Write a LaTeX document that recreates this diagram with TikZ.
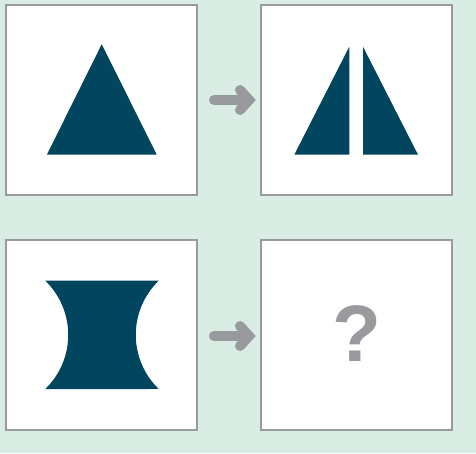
\documentclass[tikz,border=0pt]{standalone}
\usepackage{fontspec}
\setmainfont{Liberation Sans}
\begin{document}
\begin{tikzpicture}[x=1pt,y=-1pt,
  panel/.style={draw=framegray,line width=2.5pt,fill=white,minimum width=191pt,minimum height=190pt,inner sep=0pt,outer sep=0pt},
  shapefill/.style={fill=darkteal,draw=none},
  arrowline/.style={draw=arrowgray,line width=10pt,line cap=round,line join=miter}]
\definecolor{bggreen}{RGB}{217,237,229}
\definecolor{framegray}{RGB}{152,154,156}
\definecolor{arrowgray}{RGB}{152,154,157}
\definecolor{darkteal}{RGB}{2,69,95}
\useasboundingbox (0,0) rectangle (476,453);
\fill[bggreen] (0,0) rectangle (476,453);
% panels
\node[panel] (p1) at (101.5,100) {};
\node[panel] (p2) at (356.5,100) {};
\node[panel] (p3) at (101.5,335) {};
\node[panel] (p4) at (356.5,335) {};
% triangle
\fill[shapefill] (101.7,44.3) -- (156.7,154.5) -- (47,154.5) -- cycle;
% split triangle
\fill[shapefill] (349.3,46.7) -- (349.3,154.7) -- (294.3,154.7) -- cycle;
\fill[shapefill] (363,46.7) -- (418,154.7) -- (363,154.7) -- cycle;
% concave shape
\fill[shapefill] (45.3,280.7) -- (158.7,280.7)
  arc[start angle=225.9,end angle=134.1,radius=75.4]
  -- (45.3,389)
  arc[start angle=45.9,end angle=-45.9,radius=75.4]
  -- cycle;
% arrows
\coordinate (a1s) at (214,100);
\coordinate (a1t) at (249,100);
\coordinate (a2s) at (214,336);
\coordinate (a2t) at (249,336);
\draw[arrowline] (a1s) -- (a1t);
\draw[arrowline] ([shift={(-9,-10)}]a1t) -- (a1t) -- ([shift={(-9,10)}]a1t);
\draw[arrowline] (a2s) -- (a2t);
\draw[arrowline] ([shift={(-9,-10)}]a2t) -- (a2t) -- ([shift={(-9,10)}]a2t);
% question mark
\node[text=arrowgray,font=\fontsize{80}{80}\selectfont\bfseries,inner sep=0pt] (q) at (356.7,334) {?};
\end{tikzpicture}
\end{document}
